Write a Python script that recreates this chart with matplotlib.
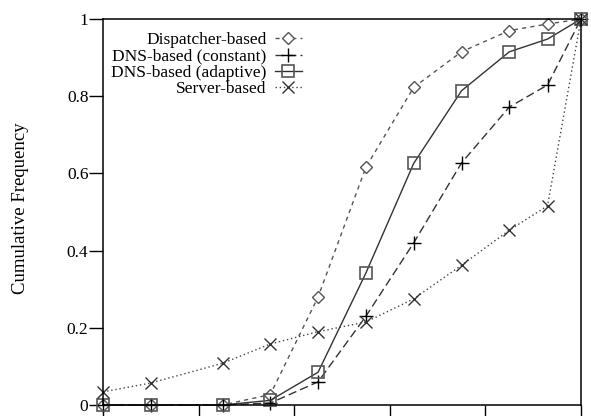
import matplotlib
matplotlib.use("Agg")
import matplotlib.pyplot as plt

plt.rcParams["font.family"] = ["Liberation Serif", "DejaVu Serif"]

# Data
x = [0, 1, 2.5, 3.5, 4.5, 5.5, 6.5, 7.5, 8.5, 9.3, 10]
dispatcher = [0, 0, 0, 0.027, 0.28, 0.616, 0.823, 0.915, 0.97, 0.987, 1.0]
dns_constant = [0, 0, 0, 0.005, 0.06, 0.23, 0.42, 0.627, 0.772, 0.829, 1.0]
dns_adaptive = [0, 0, 0, 0.012, 0.085, 0.342, 0.626, 0.814, 0.915, 0.948, 1.0]
server = [0.034, 0.057, 0.108, 0.158, 0.19, 0.215, 0.275, 0.362, 0.453, 0.516, 1.0]

x_ticks = [0, 2, 4, 6, 8, 10]
y_ticks = [0, 0.2, 0.4, 0.6, 0.8, 1.0]
y_tick_labels = ["0", "0.2", "0.4", "0.6", "0.8", "1"]

fig = plt.figure(figsize=(5.91, 4.16), dpi=100)
ax = fig.add_axes([103 / 591, 11 / 416, 478 / 591, 386 / 416])

ax.plot(x, dispatcher, color="#555555", linestyle=(0, (3, 3)), linewidth=1.0,
        marker="D", markersize=6, markerfacecolor="white", markeredgecolor="#555555",
        markeredgewidth=1.0, clip_on=False, label="Dispatcher-based")
ax.plot(x, dns_constant, color="#333333", linestyle=(0, (6, 3)), linewidth=1.0,
        marker="+", markersize=10, markeredgecolor="black", markeredgewidth=1.0,
        clip_on=False, label="DNS-based (constant)")
ax.plot(x, dns_adaptive, color="#333333", linestyle="-", linewidth=1.0,
        marker="s", markersize=9, markerfacecolor="none", markeredgecolor="#555555",
        markeredgewidth=1.2, clip_on=False, label="DNS-based (adaptive)")
ax.plot(x, server, color="#444444", linestyle=(0, (1, 2)), linewidth=1.0,
        marker="x", markersize=9, markeredgecolor="#333333", markeredgewidth=1.0,
        clip_on=False, label="Server-based")

ax.set_xlim(0, 10)
ax.set_ylim(0, 1)
ax.set_xticks(x_ticks)
ax.set_xticklabels([""] * len(x_ticks))
ax.set_yticks(y_ticks)
ax.set_yticklabels(y_tick_labels, fontsize=12.5)
ax.tick_params(direction="out", length=10, width=1.0, pad=0.5, color="black")

for s in ax.spines.values():
    s.set_linewidth(1.1)

ax.set_ylabel("Cumulative Frequency", fontsize=13.5)
ax.yaxis.set_label_coords(-0.155, 0.51)

leg = ax.legend(loc="upper left", bbox_to_anchor=(-0.008, 0.997), markerfirst=False,
                frameon=False, fontsize=12.5, handlelength=1.6, handletextpad=0.45,
                labelspacing=0.0, borderpad=0.2)

fig.savefig("out.png", dpi=100)
